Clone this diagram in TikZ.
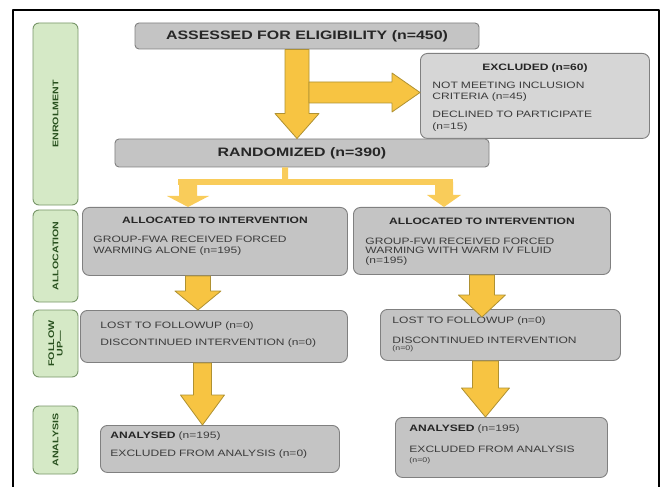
\documentclass[tikz,border=0pt]{standalone}
\usepackage{fontspec}
\setmainfont{Liberation Sans}[FakeStretch=1.3]
\usetikzlibrary{calc}
\definecolor{boxgray}{RGB}{196,196,196}
\definecolor{exclgray}{RGB}{214,214,214}
\definecolor{edgegray}{RGB}{128,128,128}
\definecolor{phasegreen}{RGB}{213,233,198}
\definecolor{phaseedge}{RGB}{120,150,105}
\definecolor{phasetext}{RGB}{40,80,30}
\definecolor{arrowfill}{RGB}{247,196,66}
\definecolor{arrowedge}{RGB}{175,145,50}
\definecolor{splitfill}{RGB}{249,204,90}
\definecolor{inkgray}{RGB}{60,60,60}
\newcommand{\bigfont}{\fontsize{12.3}{14}\selectfont\bfseries}
\newcommand{\boxhead}[1]{\makebox[\dimexpr\linewidth-2\leftskip\relax]{\bfseries\color{black!85}#1}}
\newcommand{\smallnum}[1]{{\fontsize{6.8}{7}\selectfont #1}}
% block arrow: [style]{from}{to}{half shaft}{half head}{head length}
\newcommand{\fatarrow}[6][]{%
  \coordinate (hb) at ($(#3)!#6!(#2)$);
  \path[#1] ($(#2)!#4!90:(#3)$) -- ($(hb)!#4!-90:(#2)$) -- ($(hb)!#5!-90:(#2)$) -- (#3)
    -- ($(hb)!#5!90:(#2)$) -- ($(hb)!#4!90:(#2)$) -- ($(#2)!#4!-90:(#3)$) -- cycle;}

\begin{document}
\begin{tikzpicture}[line cap=round,line join=round,x=1bp,y=-1bp,
  gbox/.style={draw=edgegray,fill=boxgray,rounded corners=7bp,line width=0.9bp,text=inkgray},
  tbox/.style n args={4}{anchor=north west,inner sep=0pt,text width=#1,text height=#2,text depth=#3,
    align=left,font=\fontsize{9.3}{11}\selectfont,execute at begin node={\leftskip=#4\relax}},
  phase/.style={draw=phaseedge,fill=phasegreen,rounded corners=6bp,line width=0.9bp,rotate=90,
    inner sep=0pt,align=center,text=phasetext,font=\fontsize{8.2}{8.5}\selectfont\bfseries},
  bigarrow/.style={fill=arrowfill,draw=arrowedge,line width=0.8bp},
  splitarrow/.style={fill=splitfill},
  splitline/.style={draw=splitfill,line width=6bp,line cap=butt}]
\useasboundingbox (0,0) rectangle (664,487);
\fill[white] (0,0) rectangle (664,487);
\draw[line width=2bp,line cap=butt] (13,487) -- (13,10) -- (659,10) -- (659,487);
% phases
\node[phase,minimum width=182bp,minimum height=45bp] (enrol) at (55.5,114) {ENROLMENT};
\node[phase,minimum width=92bp,minimum height=45bp] (alloc) at (55.5,256) {ALLOCATION};
\node[phase,minimum width=67bp,minimum height=45bp] (follow) at (55.5,343.5) {FOLLOW\\UP—};
\node[phase,minimum width=68bp,minimum height=45bp] (analysis) at (55.5,440) {ANALYSIS};
% boxes
\node[gbox,rounded corners=4bp,minimum width=344bp,minimum height=26bp,font=\bigfont,text=black!85] (assess) at (307,36) {ASSESSED FOR ELIGIBILITY (n=450)};
\node[gbox,fill=exclgray,tbox={229bp}{17bp}{68bp}{12bp},font=\fontsize{9.3}{11.5}\selectfont] (excl) at (420,53)
  {\boxhead{EXCLUDED (n=60)}\\[6.5bp]NOT MEETING INCLUSION\\CRITERIA (n=45)\\[6.5bp]DECLINED TO PARTICIPATE\\(n=15)};
\node[gbox,rounded corners=4bp,minimum width=374bp,minimum height=28bp,font=\bigfont,text=black!85] (rand) at (302,153) {RANDOMIZED (n=390)};
\node[gbox,tbox={265bp}{16bp}{52bp}{11bp}] (alL) at (82,207)
  {\boxhead{ALLOCATED TO INTERVENTION}\\[8bp]GROUP-FWA RECEIVED FORCED\\WARMING ALONE (n=195)};
\node[gbox,tbox={257bp}{17bp}{50bp}{12bp},font=\fontsize{9.3}{9.6}\selectfont] (alR) at (353,207)
  {\boxhead{ALLOCATED TO INTERVENTION}\\[10.4bp]GROUP-FWI RECEIVED FORCED\\WARMING WITH WARM IV FLUID\\(n=195)};
\node[gbox,tbox={267bp}{18bp}{34bp}{20bp}] (folL) at (80,310)
  {LOST TO FOLLOWUP (n=0)\\[6bp]DISCONTINUED INTERVENTION (n=0)};
\node[gbox,tbox={240bp}{14bp}{37bp}{12bp}] (folR) at (380,309)
  {LOST TO FOLLOWUP (n=0)\\[9bp]DISCONTINUED INTERVENTION\\[-4bp]\smallnum{(n=0)}};
\node[gbox,tbox={239bp}{13bp}{34bp}{10bp}] (anL) at (100,425)
  {\textbf{\color{black!85}ANALYSED} (n=195)\\[7bp]EXCLUDED FROM ANALYSIS (n=0)};
\node[gbox,tbox={212bp}{14bp}{46bp}{14bp}] (anR) at (395,417)
  {\textbf{\color{black!85}ANALYSED} (n=195)\\[10bp]EXCLUDED FROM ANALYSIS\\[-1bp]\smallnum{(n=0)}};
% arrow ends
\coordinate (a1s) at ([xshift=-10bp]assess.south);
\coordinate (a1e) at (a1s |- rand.north);
\coordinate (j1) at (309,92.5);
\coordinate (j1e) at (j1 -| excl.west);
\coordinate (s0) at ([xshift=-17bp]rand.south);
\coordinate (sm) at (285,182);
\coordinate (sl) at (188,182);
\coordinate (sr) at (444,182);
\coordinate (slt) at (sl |- alL.north);
\coordinate (srt) at (sr |- alR.north);
\coordinate (b1s) at ([xshift=-17bp]alL.south);
\coordinate (b1e) at (b1s |- folL.north);
\coordinate (b2s) at ([xshift=-11.5bp]folL.south);
\coordinate (b2e) at (b2s |- anL.north);
\coordinate (c1s) at (alR.south);
\coordinate (c1e) at ([yshift=-8bp]c1s |- folR.north);
\coordinate (c2s) at ([xshift=-15bp]folR.south);
\coordinate (c2e) at (c2s |- anR.north);
% arrows
\fatarrow[bigarrow]{a1s}{a1e}{12bp}{22bp}{25bp}
\fatarrow[bigarrow]{j1}{j1e}{10.5bp}{19.5bp}{28bp}
\draw[splitline] (s0) -- (sm);
\draw[splitline] ([xshift=-10bp]sl) -- ([xshift=9bp]sr);
\fatarrow[splitarrow]{sl}{slt}{9bp}{21bp}{11bp}
\fatarrow[splitarrow]{sr}{srt}{9bp}{17bp}{12bp}
\fatarrow[bigarrow]{b1s}{b1e}{12.5bp}{23bp}{19bp}
\fatarrow[bigarrow]{b2s}{b2e}{9bp}{22bp}{30bp}
\fatarrow[bigarrow]{c1s}{c1e}{12.5bp}{23.5bp}{22bp}
\fatarrow[bigarrow]{c2s}{c2e}{13bp}{24bp}{29bp}
\end{tikzpicture}
\end{document}
